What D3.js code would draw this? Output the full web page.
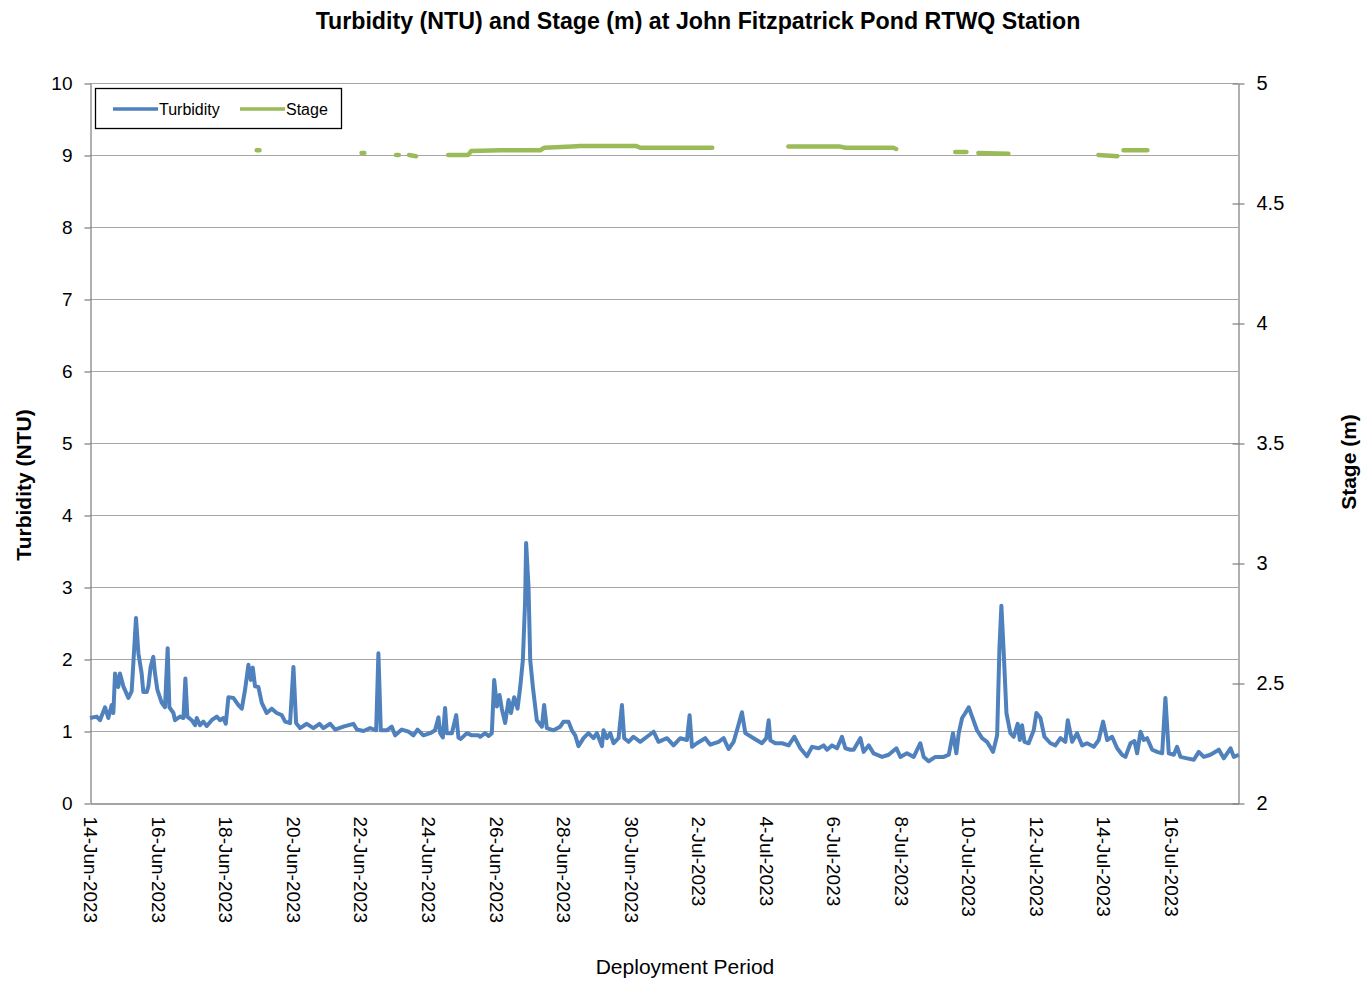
<!DOCTYPE html>
<html lang="en">
  <head>
    <meta charset="utf-8">
    <title>Turbidity and Stage</title>
    <script src="https://d3js.org/d3.v7.js"></script>
    <style>
      body { margin: 0; background: white; }
      text { font-family: "Liberation Sans", Arial, sans-serif; }
    </style>
  </head>
  <body>
  <script>

// hours since 14-Jun-2023 00:00, turbidity in NTU
var turbHours = [0, 4.7, 7.1, 10.7, 13, 15.4, 16.6, 17.8, 20.1, 21.3, 23.7, 27.3, 29.6, 30.8, 32.7, 34.4, 36.7, 37.9, 40.3, 41.5,
  43.1, 45, 46.2, 47.9, 51, 53.3, 55.2, 56.4, 59.3, 60.4, 64, 66.4, 67.8, 69.2, 72.3, 74.7, 75.9, 78.2, 80.6, 83,
  86.5, 90.1, 92.4, 94.8, 96.5, 98.4, 101.9, 105.5, 107.9, 110.2, 112.6, 114.3, 115.7, 117.3, 119.7, 122.1, 125.6, 129.2, 132.7, 136.3,
  138.7, 142.2, 144.6, 146.5, 149.3, 154.1, 158.8, 163.1, 165.9, 170.7, 174.2, 180.1, 187.2, 189.7, 194.4, 199.1, 203.4, 205, 206.7, 211,
  214.5, 216.9, 221.6, 226.4, 229.9, 232.8, 237, 241.8, 245.3, 247.7, 248.9, 250.8, 252.4, 253.6, 257.2, 260.3, 261.9, 263.6, 267.9, 271.4,
  276.1, 277.3, 280.9, 283.3, 285.6, 287.3, 289.2, 291.1, 292.7, 295.1, 297.5, 299.2, 301.5, 303.9, 305.8, 307.7, 309.3, 310, 311.7, 312.9,
  314.8, 317.6, 321.2, 322.8, 324.7, 329.5, 334.2, 336.6, 340.1, 342.5, 344.9, 347.2, 350.8, 354.3, 357.9, 360.3, 363.9, 365, 367.4, 369.8,
  372.1, 375.7, 378.1, 379.7, 382.8, 386.3, 391.1, 395.9, 400.6, 404.1, 410.1, 414.8, 419.6, 424.3, 426.2, 427.9, 431.4, 437.3, 440.9, 446.8,
  450.4, 453.9, 457.5, 460.3, 463.4, 465.8, 471.7, 477.6, 480.7, 482.4, 483.6, 487.1, 491.9, 496.6, 500.6, 504.9, 509.6, 513.2, 517.9, 521.5,
  523.9, 527.4, 531, 534.5, 536.9, 540.4, 542.8, 547.6, 549.9, 553.5, 557, 563, 567.7, 573.2, 576, 580.7, 585.5, 590.2, 592.6, 596.1,
  600.9, 606.8, 610.4, 613.4, 615.8, 617.5, 619.9, 622.2, 624.6, 627, 630.5, 634.1, 637.6, 641.9, 644.8, 646.4, 647.8, 649.5, 651.4, 654.2,
  656.6, 659.4, 660.9, 662.5, 664.2, 667.2, 670.8, 672.7, 675.6, 678.4, 682.7, 686.2, 689.8, 693.3, 695, 698.1, 701.6, 705.2, 708.7, 713.5,
  717, 720.1, 723, 726.5, 730.1, 733.6, 736, 739.6, 742.4, 744.3, 746.7, 749, 751.4, 755, 758.5, 762.1, 764.4, 766.8, 770.4, 772.7,
  775.1, 779.8, 784.6, 788.1, 791.7, 796.4, 802.4, 805.9, 810.7, 813, 816.6];
var turbNTU = [1.18, 1.2, 1.15, 1.33, 1.18, 1.36, 1.25, 1.8, 1.61, 1.8, 1.62, 1.46, 1.55, 1.94, 2.57, 2.08, 1.8, 1.54, 1.54, 1.62,
  1.89, 2.03, 1.8, 1.57, 1.39, 1.33, 2.15, 1.33, 1.25, 1.15, 1.2, 1.18, 1.73, 1.2, 1.15, 1.08, 1.18, 1.08, 1.13, 1.07,
  1.15, 1.2, 1.15, 1.18, 1.1, 1.47, 1.46, 1.36, 1.31, 1.57, 1.92, 1.71, 1.88, 1.62, 1.61, 1.39, 1.25, 1.31, 1.25, 1.22,
  1.13, 1.11, 1.89, 1.11, 1.04, 1.1, 1.04, 1.1, 1.04, 1.1, 1.02, 1.06, 1.1, 1.02, 1.0, 1.04, 1.01, 2.08, 1.01, 1.01,
  1.06, 0.94, 1.02, 0.99, 0.94, 1.02, 0.94, 0.97, 1.01, 1.19, 0.97, 0.91, 1.32, 0.97, 0.97, 1.22, 0.91, 0.89, 0.97, 0.94,
  0.94, 0.92, 0.97, 0.93, 0.97, 1.71, 1.34, 1.5, 1.31, 1.11, 1.43, 1.25, 1.47, 1.31, 1.61, 1.99, 2.82, 3.61, 3.0, 1.99,
  1.61, 1.15, 1.06, 1.36, 1.04, 1.01, 1.06, 1.13, 1.13, 1.01, 0.94, 0.79, 0.9, 0.97, 0.9, 0.97, 0.79, 1.01, 0.9, 0.97,
  0.83, 0.9, 1.36, 0.9, 0.85, 0.92, 0.85, 0.92, 0.99, 0.85, 0.9, 0.8, 0.9, 0.875, 1.22, 0.78, 0.83, 0.9, 0.81, 0.85,
  0.9, 0.75, 0.85, 1.04, 1.26, 0.97, 0.9, 0.83, 0.9, 1.15, 0.87, 0.83, 0.83, 0.8, 0.92, 0.76, 0.65, 0.78, 0.76, 0.8,
  0.74, 0.8, 0.76, 0.92, 0.76, 0.74, 0.74, 0.9, 0.71, 0.8, 0.69, 0.64, 0.67, 0.76, 0.64, 0.69, 0.64, 0.83, 0.64, 0.58,
  0.64, 0.64, 0.67, 0.97, 0.69, 0.97, 1.18, 1.25, 1.33, 1.2, 1.01, 0.9, 0.85, 0.71, 0.94, 2.13, 2.74, 2.08, 1.25, 0.97,
  0.92, 1.1, 0.875, 1.08, 0.85, 0.83, 1.01, 1.25, 1.18, 0.92, 0.83, 0.8, 0.9, 0.85, 1.15, 0.85, 0.97, 0.8, 0.83, 0.78,
  0.875, 1.13, 0.875, 0.92, 0.76, 0.67, 0.64, 0.83, 0.86, 0.69, 0.99, 0.875, 0.9, 0.74, 0.71, 0.69, 1.46, 0.69, 0.67, 0.78,
  0.64, 0.62, 0.6, 0.71, 0.64, 0.67, 0.74, 0.62, 0.76, 0.64, 0.67];

// stage (m), null = gap in record
var stageHours = [118.5, 120.5, null, 193, 195, null, 217.5, 219.5, null, 226.8, 231.8, null,
  254.6, 268.8, 271, 291.6, 320, 322.9, 342.8, 348.4, 388.3, 391.1, 442.3, null,
  496.4, 533.3, 537, 571, 573, null, 615, 623, null, 631.5, 652.8, null, 716.8, 730.3, null, 734.6, 751.6];
var stageM = [4.72, 4.72, null, 4.708, 4.708, null, 4.70, 4.70, null, 4.70, 4.695, null,
  4.70, 4.70, 4.717, 4.72, 4.72, 4.73, 4.735, 4.737, 4.737, 4.73, 4.73, null,
  4.735, 4.735, 4.73, 4.73, 4.725, null, 4.712, 4.712, null, 4.708, 4.705, null, 4.70, 4.695, null, 4.72, 4.72];

var turbTicks = [0, 1, 2, 3, 4, 5, 6, 7, 8, 9, 10];
var stageTicks = [2, 2.5, 3, 3.5, 4, 4.5, 5];
var seriesNames = ["Turbidity", "Stage"];
var seriesColors = ["#4f81bd", "#9bbb59"];

var w = 1367;
var h = 981;
var margin = {top: 83, right: 129, bottom: 178, left: 90};
var innerWidth = w - margin.left - margin.right;
var innerHeight = h - margin.top - margin.bottom;

var start = new Date(2023, 5, 14);
var end = new Date(2023, 6, 18);
var toDate = hrs => new Date(start.getTime() + hrs * 3600000);

var turbData = turbHours.map((t, i) => ({date: toDate(t), value: turbNTU[i]}));
var stageData = stageHours.map((t, i) => ({date: t == null ? null : toDate(t), value: stageM[i]}));

var xScale = d3.scaleTime()
    .domain([start, end])
    .range([0, innerWidth]);

var yScale = d3.scaleLinear()
    .domain([0, 10])
    .range([innerHeight, 0]);

var y2Scale = d3.scaleLinear()
    .domain([2, 5])
    .range([innerHeight, 0]);

var svg = d3.select("body")
  .append("svg")
    .attr("width", w)
    .attr("height", h);

var plot = svg.append("g")
    .attr("transform", `translate(${margin.left}, ${margin.top})`);

// gridlines
plot.append("g")
  .selectAll("line")
  .data(turbTicks.slice(1))
  .enter().append("line")
    .attr("x1", 0)
    .attr("x2", innerWidth)
    .attr("y1", d => yScale(d) + 0.5)
    .attr("y2", d => yScale(d) + 0.5)
    .attr("stroke", "#a6a6a6")
    .attr("stroke-width", 1.2);

// axes
var yAxis = d3.axisLeft(yScale)
    .tickValues(turbTicks)
    .tickSize(6)
    .tickSizeOuter(0)
    .tickPadding(12);

var gy = plot.append("g")
    .attr("transform", "translate(0.5, 0.5)")
    .call(yAxis);

var y2Axis = d3.axisRight(y2Scale)
    .tickValues(stageTicks)
    .tickFormat(d3.format("~g"))
    .tickSize(6)
    .tickSizeOuter(0)
    .tickPadding(12);

var gy2 = plot.append("g")
    .attr("transform", `translate(${innerWidth + 0.5}, 0.5)`)
    .call(y2Axis);
gy2.selectAll(".tick line").attr("x1", -6);

var xAxis = d3.axisBottom(xScale)
    .tickValues(d3.timeDay.range(start, end, 2))
    .tickFormat(d3.timeFormat("%-d-%b-%Y"))
    .tickSize(0)
    .tickSizeOuter(0);

var gx = plot.append("g")
    .attr("transform", `translate(0.5, ${innerHeight + 0.5})`)
    .call(xAxis);

gx.selectAll("text")
    .attr("transform", "rotate(90)")
    .attr("text-anchor", "start")
    .attr("x", 13)
    .attr("y", 0)
    .attr("dy", "0.35em")
    .attr("font-size", 19);

[gy, gy2, gx].forEach(function (g) {
  g.select(".domain").attr("stroke", "#868686").attr("stroke-width", 1.3);
  g.selectAll(".tick line").attr("stroke", "#868686").attr("stroke-width", 1.3);
  g.selectAll("text").attr("fill", "#000").style("font-family", "'Liberation Sans', Arial, sans-serif");
});
gy.selectAll("text").attr("font-size", 19);
gy2.selectAll("text").attr("font-size", 20);

// series
var line = d3.line()
    .x(d => xScale(d.date))
    .y(d => yScale(d.value));

var stageLine = d3.line()
    .defined(d => d.value != null)
    .x(d => xScale(d.date))
    .y(d => y2Scale(d.value));

plot.append("path")
    .datum(stageData)
    .attr("fill", "none")
    .attr("stroke", seriesColors[1])
    .attr("stroke-width", 4.5)
    .attr("stroke-linecap", "round")
    .attr("stroke-linejoin", "round")
    .attr("d", stageLine);

plot.append("path")
    .datum(turbData)
    .attr("fill", "none")
    .attr("stroke", seriesColors[0])
    .attr("stroke-width", 4)
    .attr("stroke-linejoin", "round")
    .attr("d", line);

// legend
var legend = svg.append("g")
    .attr("transform", "translate(95, 88)");

legend.append("rect")
    .attr("x", 0.5)
    .attr("y", 0.5)
    .attr("width", 246)
    .attr("height", 40)
    .attr("fill", "white")
    .attr("stroke", "black")
    .attr("stroke-width", 1.3);

var items = legend.selectAll(".item")
    .data(seriesNames)
    .enter().append("g")
    .attr("transform", (d, i) => `translate(${18 + i * 127}, 21)`);

items.append("line")
    .attr("x1", 0)
    .attr("x2", 45)
    .attr("stroke", (d, i) => seriesColors[i])
    .attr("stroke-width", 3.5);

items.append("text")
    .attr("x", 46)
    .attr("dy", "0.35em")
    .attr("font-size", 16)
    .text(d => d);

// titles
svg.append("text")
    .attr("x", 698)
    .attr("y", 29)
    .attr("text-anchor", "middle")
    .attr("font-size", 23.2)
    .attr("font-weight", "bold")
    .text("Turbidity (NTU) and Stage (m) at John Fitzpatrick Pond RTWQ Station");

svg.append("text")
    .attr("transform", "translate(31, 485) rotate(-90)")
    .attr("text-anchor", "middle")
    .attr("font-size", 21)
    .attr("font-weight", "bold")
    .text("Turbidity (NTU)");

svg.append("text")
    .attr("transform", "translate(1356, 462) rotate(-90)")
    .attr("text-anchor", "middle")
    .attr("font-size", 21)
    .attr("font-weight", "bold")
    .text("Stage (m)");

svg.append("text")
    .attr("x", 685)
    .attr("y", 974)
    .attr("text-anchor", "middle")
    .attr("font-size", 21)
    .text("Deployment Period");

    </script>
  </body>
</html>
